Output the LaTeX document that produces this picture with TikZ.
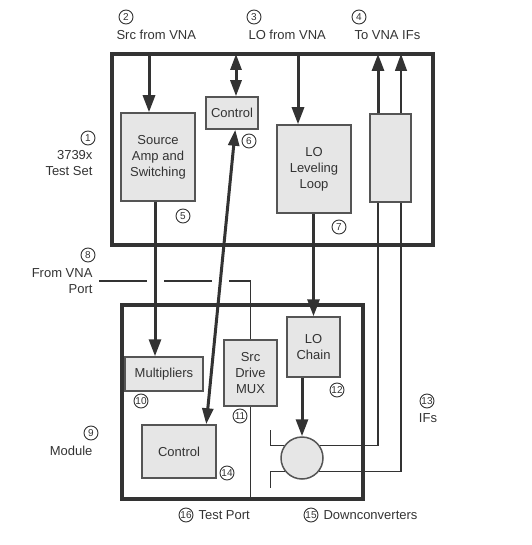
\documentclass[tikz,border=0pt]{standalone}
\usepackage{fontspec}
\setmainfont{Liberation Sans}
\usetikzlibrary{arrows.meta}
\definecolor{ink}{HTML}{333333}
\definecolor{boxfill}{HTML}{E6E6E6}
\definecolor{boxline}{HTML}{555555}

\begin{document}
\begin{tikzpicture}[x=1pt, y=-1pt, color=ink, font=\fontsize{13}{16}\selectfont,
	frame/.style={draw, line width=4pt, inner sep=0pt},
	block/.style={draw=boxline, fill=boxfill, line width=1.5pt, align=center, inner sep=0pt},
	num/.style={draw, circle, line width=0.9pt, inner sep=0pt, minimum size=14pt, font=\fontsize{10}{10}\selectfont},
	sig/.style={line width=3pt},
	wire/.style={line width=1.3pt},
	tip/.style={-{Triangle[length=17pt,width=12pt]}},
	tips/.style={{Triangle[length=16pt,width=11pt]}-{Triangle[length=16pt,width=11pt]}}]
		\useasboundingbox (0,0) rectangle (531,545);
		% the two housings
		\node[frame, minimum width=321pt, minimum height=191pt] (testset) at (272.5,149.5) {};
		\node[frame, minimum width=241pt, minimum height=194pt] (module) at (242.5,402) {};
		% blocks of the test set
		\node[block, minimum width=74pt, minimum height=88pt] (srcamp) at (158,157) {Source\\Amp and\\Switching};
		\node[block, minimum width=52pt, minimum height=32pt] (ctrltop) at (232,113) {Control};
		\node[block, minimum width=74pt, minimum height=88pt] (lolevel) at (314,169) {LO\\Leveling\\Loop};
		\node[block, minimum width=41pt, minimum height=88pt] (ifbox) at (390.5,158) {};
		% blocks of the module
		\node[block, minimum width=78pt, minimum height=34pt] (mult) at (164,374) {Multipliers};
		\node[block, minimum width=53pt, minimum height=66pt] (mux) at (250.5,373) {Src\\Drive\\MUX};
		\node[block, minimum width=53pt, minimum height=60pt] (lochain) at (313.5,347) {LO\\Chain};
		\node[block, minimum width=74pt, minimum height=53pt] (ctrlmod) at (179,451.5) {Control};
		\node[block, circle, minimum size=42pt] (mixer) at (302,458) {};
		% where the cables leave the test set
		\coordinate (srcin) at (149,54);
		\coordinate (ctlin) at (236,54);
		\coordinate (loin) at (298,54);
		\coordinate (ifA) at (378,54);
		\coordinate (ifB) at (401,54);
		\coordinate (port) at (99,281);
		% signal paths
		\draw[sig, tip] (srcin) -- (srcin |- srcamp.north);
		\draw[sig, tips] (ctlin) -- (ctlin |- ctrltop.north);
		\draw[sig, tip] (loin) -- (loin |- lolevel.north);
		\draw[sig, tip] (ifbox.north -| ifA) -- (ifA);
		\draw[wire, tip] (ifbox.north -| ifB) -- (ifB);
		\draw[sig, tip] ([xshift=-3pt]srcamp.south) -- ([xshift=-9pt]mult.north);
		\draw[sig, tip] (lochain.north |- lolevel.south) -- (lochain.north);
		\draw[sig, tip] (mixer.north |- lochain.south) -- (mixer.north);
		\draw[sig, tips] (ctrlmod.45) -- (ctrltop.-79);
		% from VNA port to the test port
		\draw[wire] (port) -- (147,281);
		\draw[wire] (164,281) -- (212,281);
		\draw[wire] (229,281) -| (mux.north);
		\draw[wire] (mux.south) -- (mux.south |- module.south);
		% IFs from the downconverter
		\draw[wire] (ifbox.south -| ifA) |- (mixer.35);
		\draw[wire] (ifbox.south -| ifB) |- (mixer.-38);
		\draw[wire] (mixer.145) -- ++(-14,0) -- ++(0,-16);
		\draw[wire] (mixer.218) -- ++(-14.5,0) -- ++(0,17);
		% labels
		\node[num] (n1) at (88,138) {1};
		\node[align=right, anchor=east] (tset) at (96,163.5) {3739x\\Test Set};
		\node[num] (n2) at (126,17) {2};
		\node[anchor=west] (srclbl) at (113,35) {Src from VNA};
		\node[num] (n3) at (254,17) {3};
		\node[anchor=west] (lolbl) at (245,35) {LO from VNA};
		\node[num] (n4) at (359,17) {4};
		\node[anchor=west] (iflbl) at (351,35) {To VNA IFs};
		\node[num] (n5) at (183,216) {5};
		\node[num] (n6) at (249,141) {6};
		\node[num] (n7) at (339,227) {7};
		\node[num] (n8) at (88,255) {8};
		\node[align=right, anchor=east] (portlbl) at (96,281) {From VNA\\Port};
		\node[num] (n9) at (91,433) {9};
		\node[anchor=east] (modlbl) at (96,451) {Module};
		\node[num] (n10) at (141,401) {10};
		\node[num] (n11) at (240,416) {11};
		\node[num] (n12) at (337,390) {12};
		\node[num] (n13) at (427,401) {13};
		\node (ifs) at (428,418) {IFs};
		\node[num] (n14) at (227,473) {14};
		\node[num] (n16) at (186,515) {16};
		\node[anchor=west] (tport) at (195,515) {Test Port};
		\node[num] (n15) at (311,515) {15};
		\node[anchor=west] (dconv) at (320,515) {Downconverters};
\end{tikzpicture}
\end{document}
